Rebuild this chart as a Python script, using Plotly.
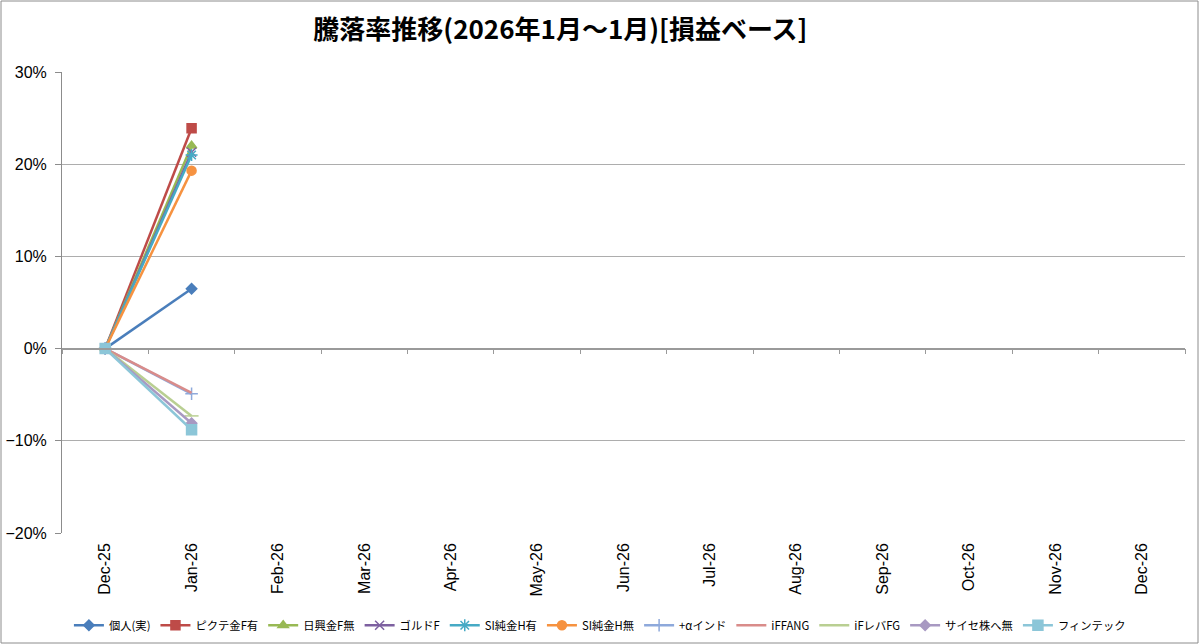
import plotly.graph_objects as go

categories = ["Dec-25", "Jan-26", "Feb-26", "Mar-26", "Apr-26", "May-26", "Jun-26",
              "Jul-26", "Aug-26", "Sep-26", "Oct-26", "Nov-26", "Dec-26"]

series_names = ["個人(実)", "ピクテ金F有", "日興金F無", "ゴルドF", "SI純金H有", "SI純金H無",
                "+αインド", "iFFANG", "iFレバFG", "サイセ株へ無", "フィンテック"]

kojin = [0.0, 0.065]
pictet = [0.0, 0.239]
nikko = [0.0, 0.220]
gold_f = [0.0, 0.213]
si_h_yes = [0.0, 0.210]
si_h_no = [0.0, 0.193]
alpha_india = [0.0, -0.049]
iffang = [0.0, -0.048]
if_leva = [0.0, -0.073]
saise = [0.0, -0.081]
fintech = [0.0, -0.088]

values = [kojin, pictet, nikko, gold_f, si_h_yes, si_h_no,
          alpha_india, iffang, if_leva, saise, fintech]

colors = ["#4A7EBB", "#BE4B48", "#98B954", "#7D60A0", "#46AAC5", "#F69240",
          "#8EA9DB", "#D98C8A", "#B9CF92", "#A899C2", "#8CC6D8"]
symbols = ["diamond", "square", "triangle-up", "x-thin", "asterisk", "circle",
           "cross-thin", None, "line-ew", "diamond", "square"]
sizes = [8, 9, 9, 9, 10, 9, 9, 0, 10, 8, 10]

fig = go.Figure()
for name, vals, col, sym, sz in zip(series_names, values, colors, symbols, sizes):
    y = vals + [None] * (len(categories) - len(vals))
    if sym is None:
        fig.add_trace(go.Scatter(x=categories, y=y, name=name, mode="lines",
                                 line=dict(color=col, width=2.5)))
    else:
        fig.add_trace(go.Scatter(x=categories, y=y, name=name, mode="lines+markers",
                                 line=dict(color=col, width=2.5),
                                 marker=dict(symbol=sym, size=sz, color=col,
                                             line=dict(color=col, width=1.5))))

# invisible trace for the zero-crossing category axis
fig.add_trace(go.Scatter(x=categories, y=[None] * len(categories), xaxis="x2",
                         showlegend=False, hoverinfo="skip", mode="lines"))

fig.update_layout(
    width=1200, height=644,
    margin=dict(l=62, r=15, t=72, b=111, autoexpand=False),
    paper_bgcolor="white", plot_bgcolor="white",
    font=dict(family="Noto Sans CJK JP, Liberation Sans, sans-serif", color="black"),
    title=dict(text="<b>騰落率推移(2026年1月～1月)[損益ベース]</b>",
               x=0.467, xanchor="center", y=0.953, yanchor="middle",
               font=dict(size=26, family="Noto Sans CJK JP", color="black")),
    xaxis=dict(type="category", categoryorder="array", categoryarray=categories,
               range=[-0.5, len(categories) - 0.5], showgrid=False, showline=False,
               ticks="", tickangle=-90, ticklabelstandoff=6, automargin=False,
               tickfont=dict(size=16, family="Liberation Sans")),
    xaxis2=dict(type="category", categoryorder="array", categoryarray=categories,
                range=[-0.5, len(categories) - 0.5], overlaying="x", anchor="free",
                position=0.4, side="bottom", showline=True, linecolor="#9A9A9A",
                linewidth=1.5, ticks="outside", ticklen=5, tickcolor="#9A9A9A",
                tickson="boundaries", showticklabels=False, showgrid=False),
    yaxis=dict(range=[-0.2, 0.3], dtick=0.1, tickformat=".0%", showgrid=True,
               gridcolor="#ADADAD", gridwidth=1, zeroline=False, showline=True,
               linecolor="#8C8C8C", linewidth=1, ticks="outside", ticklen=6,
               tickcolor="#8C8C8C", ticklabelstandoff=5, automargin=False,
               tickfont=dict(size=16, family="Liberation Sans")),
    legend=dict(orientation="h", x=0.479, xanchor="center", y=-0.2, yanchor="middle",
                font=dict(size=11.3), bgcolor="rgba(0,0,0,0)"),
    shapes=[dict(type="rect", xref="paper", yref="paper",
                 x0=-61 / 1123, x1=1 + 13 / 1123, y0=-110 / 461, y1=1 + 71 / 461,
                 line=dict(color="#8C8C8C", width=1))],
)

fig.write_html("out.html", config={"displayModeBar": False, "responsive": False},
               post_script="document.body.style.margin='0';document.body.style.overflow='hidden';")
